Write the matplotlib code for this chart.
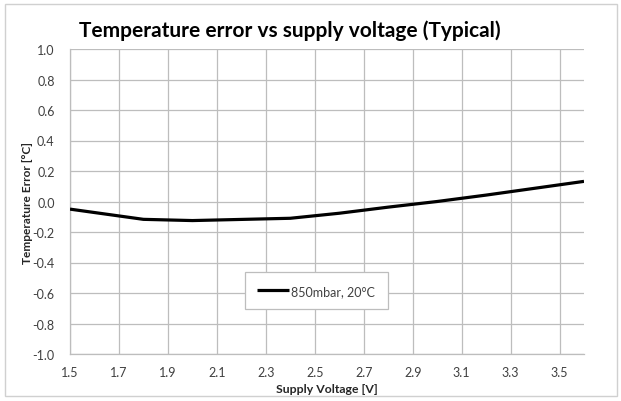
import matplotlib
matplotlib.use("Agg")
import matplotlib.pyplot as plt
from matplotlib.patches import Rectangle
import numpy as np

voltage = [1.5, 1.8, 2.0, 2.4, 2.6, 2.8, 3.0, 3.2, 3.4, 3.6]
temp_error = [-0.05, -0.117, -0.125, -0.11, -0.077, -0.037, 0.0, 0.042, 0.087, 0.132]
series_label = "850mbar, 20°C"
x_ticks = [1.5, 1.7, 1.9, 2.1, 2.3, 2.5, 2.7, 2.9, 3.1, 3.3, 3.5]
y_ticks = [-1.0, -0.8, -0.6, -0.4, -0.2, 0.0, 0.2, 0.4, 0.6, 0.8, 1.0]

plt.rcParams['font.family'] = ['Lato', 'DejaVu Sans']

W, H = 621, 402
fig = plt.figure(figsize=(W / 100, H / 100), dpi=100)
fig.patch.set_facecolor('white')
fig.patches.append(Rectangle((5 / W, 5 / H), 612 / W, 392 / H, transform=fig.transFigure,
                             fill=False, edgecolor='#d0d0d0', linewidth=1))

left, right, top, bottom = 70, 584, 50, 355
ax = fig.add_axes([left / W, 1 - bottom / H, (right - left) / W, (bottom - top) / H])

ax.plot(voltage, temp_error, color='black', linewidth=2.3, label=series_label,
        solid_capstyle='butt', zorder=3)

ax.set_xlim(1.5, 3.6)
ax.set_ylim(-1.0, 1.0)
ax.set_xticks(x_ticks)
ax.set_yticks(y_ticks)
ax.set_xticklabels([f"{v:.1f}" for v in x_ticks])
ax.set_yticklabels([f"{v:.1f}" for v in y_ticks])
ax.tick_params(axis='both', length=0, labelsize=9, colors='#404040')
ax.tick_params(axis='x', pad=9)
ax.tick_params(axis='y', pad=11)

ax.grid(True, color='#bdbdbd', linewidth=0.9)
ax.set_axisbelow(True)
for s in ['top', 'right']:
    ax.spines[s].set_visible(False)
for s in ['left', 'bottom']:
    ax.spines[s].set_color('#bdbdbd')
    ax.spines[s].set_linewidth(0.9)

ax.set_xlabel("Supply Voltage [V]", fontsize=8.8, fontweight='bold', color='#262626', labelpad=3)
ax.set_ylabel("Temperature Error [°C]", fontsize=8.6, fontweight='bold', color='#262626')
ax.yaxis.set_label_coords((33 - left) / (right - left), 0.5)

fig.text(290 / W, 1 - 31 / H, "Temperature error vs supply voltage (Typical)",
         ha='center', va='center', fontsize=15, fontweight='bold', color='black')

leg = ax.legend(loc='center', bbox_to_anchor=(0.479, 0.207), frameon=True, fancybox=False,
                fontsize=9, handlelength=2.5, handletextpad=0.2, borderpad=1.0,
                borderaxespad=0)
leg.get_frame().set_edgecolor('#bdbdbd')
leg.get_frame().set_linewidth(0.9)
leg.get_frame().set_alpha(1)
leg.get_frame().set_boxstyle('square', pad=0.0)
for t in leg.get_texts():
    t.set_color('#404040')

fig.savefig("out.png", dpi=100, facecolor='white')
